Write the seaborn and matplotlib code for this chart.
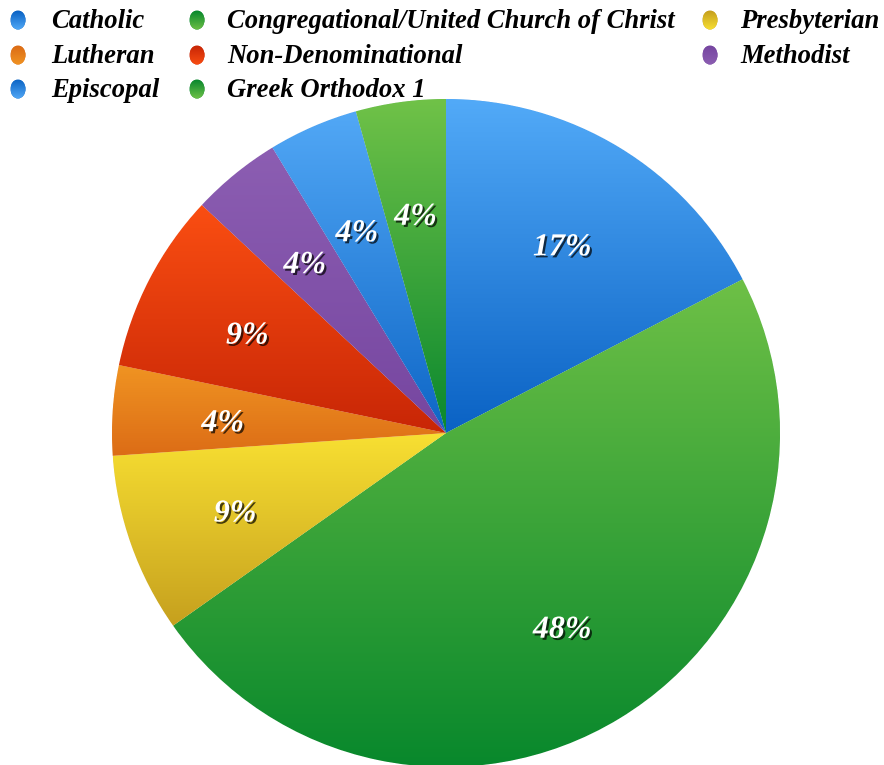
import numpy as np
import matplotlib.pyplot as plt
import seaborn as sns
import matplotlib.patheffects as pe
from matplotlib.colors import LinearSegmentedColormap
from matplotlib.patches import Ellipse

# donnees
denominations = ["Catholic", "Congregational/United Church of Christ", "Presbyterian",
                 "Lutheran", "Non-Denominational", "Methodist",
                 "Episcopal", "Greek Orthodox 1"]
counts = [4, 11, 2, 1, 2, 1, 1, 1]
top_colors = ["#52aaf8", "#6ec046", "#f8e032", "#f09422", "#fa4e12", "#8c5eb2", "#52a8f6", "#70c248"]
bottom_colors = ["#0a62c4", "#08882c", "#c6a01e", "#dc6c16", "#c82606", "#7646a0", "#0e66c6", "#0a882e"]

sns.set_theme(style="white")
plt.rcParams['font.family'] = ['Liberation Serif', 'DejaVu Serif']

W, H = 884, 765
fig = plt.figure(figsize=(W / 100, H / 100), dpi=100)

def gradient_fill(ax, patch, ctop, cbot, z):
    '''remplit un patch avec un degrade vertical'''
    bb = patch.get_path().get_extents(patch.get_patch_transform())
    cmap = LinearSegmentedColormap.from_list("g", [cbot, ctop])
    grad = np.linspace(0, 1, 256).reshape(-1, 1)
    im = ax.imshow(grad, extent=[bb.x0, bb.x1, bb.y0, bb.y1], origin="lower",
                   cmap=cmap, aspect="auto", zorder=z, interpolation="bilinear")
    im.set_clip_path(patch)

# camembert
cx, cy, r = 446, 433, 334
ax = fig.add_axes([(cx - r) / W, (H - cy - r) / H, 2 * r / W, 2 * r / H])
wedges, texts, autotexts = ax.pie(
    counts, startangle=90, counterclock=False, autopct="%1.0f%%",
    pctdistance=0.67, radius=1,
    wedgeprops=dict(linewidth=0.6, edgecolor="white"),
    textprops=dict(color="white", fontsize=23, fontweight="bold", fontstyle="italic"))
for w, ct, cb in zip(wedges, top_colors, bottom_colors):
    w.set_facecolor(cb)
    gradient_fill(ax, w, ct, cb, 1.5)
for t in autotexts:
    x, y = t.get_position()
    t.set_position((x, y - 6 / r))  # petit decalage vers le bas
    t.set_zorder(5)
    t.set_path_effects([pe.withSimplePatchShadow(offset=(1.5, -1.5), shadow_rgbFace="black", alpha=0.7)])
ax.set_xlim(-1, 1)
ax.set_ylim(-1, 1)
ax.set_aspect("equal")
ax.axis("off")

# legende manuelle sur 3 colonnes
lax = fig.add_axes([0, 0, 1, 1])
lax.set_xlim(0, W)
lax.set_ylim(H, 0)
lax.axis("off")
col_marker = [18, 197, 710]
col_text = [51, 227, 740]
row_y = [20, 55, 89]
for i, name in enumerate(denominations):
    row, col = i // 3, i % 3
    e = Ellipse((col_marker[col], row_y[row]), 15, 19, facecolor=bottom_colors[i], edgecolor="none")
    lax.add_patch(e)
    gradient_fill(lax, e, top_colors[i], bottom_colors[i], 2)
    lax.text(col_text[col], row_y[row] + 1, name, fontsize=19.2, fontweight="bold",
             fontstyle="italic", color="black", va="center", ha="left")
lax.set_xlim(0, W)
lax.set_ylim(H, 0)

fig.savefig("out.png", dpi=100)
